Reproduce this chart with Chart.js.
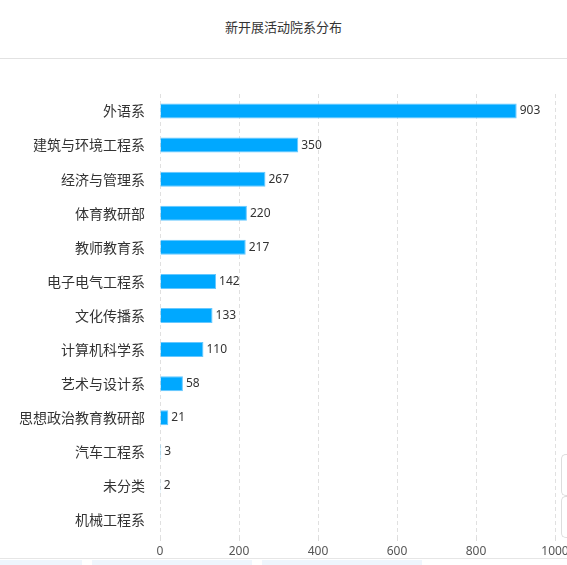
<!DOCTYPE html>
<html>
<head>
<meta charset="utf-8">
<script src="https://cdn.jsdelivr.net/npm/chart.js@4/dist/chart.umd.min.js"></script>
<style>
  html,body{margin:0;padding:0;background:#fff;width:567px;height:565px;overflow:hidden;font-family:"Noto Sans CJK SC","Noto Sans",sans-serif;}
  #hdr{position:absolute;left:0;top:0;width:567px;height:58px;border-bottom:1px solid #e2e2e2;text-align:center;line-height:54px;font-size:13px;color:#333;}
  #wrap{position:absolute;left:0;top:60px;width:567px;height:499px;}
  #foot{position:absolute;left:0;top:558px;width:567px;height:1px;background:#e6e6e6;}
  .strip{position:absolute;top:560px;height:5px;background:#eef5fd;}
  .wid{position:absolute;left:561px;width:10px;border:1px solid #ddd;border-right:none;border-radius:5px 0 0 5px;background:#fff;}
</style>
</head>
<body>
<div id="hdr">新开展活动院系分布</div>
<div id="wrap"><canvas id="c" width="567" height="498"></canvas></div>
<div id="foot"></div>
<div class="strip" style="left:0;width:82px"></div>
<div class="strip" style="left:92px;width:160px"></div>
<div class="strip" style="left:262px;width:160px"></div>
<div class="wid" style="top:454px;height:40px"></div>
<div class="wid" style="top:496px;height:40px"></div>
<script>
const categories = ["外语系","建筑与环境工程系","经济与管理系","体育教研部","教师教育系","电子电气工程系","文化传播系","计算机科学系","艺术与设计系","思想政治教育教研部","汽车工程系","未分类","机械工程系"];
const values = [903,350,267,220,217,142,133,110,58,21,3,2,0];
const xTicks = [0,200,400,600,800,1000];

const valueLabels = {
  id:'valueLabels',
  afterDatasetsDraw(chart){
    const ctx = chart.ctx;
    const meta = chart.getDatasetMeta(0);
    ctx.save();
    ctx.font = '12px "Noto Sans","Noto Sans CJK SC",sans-serif';
    ctx.fillStyle = '#333';
    ctx.textAlign = 'left';
    ctx.textBaseline = 'middle';
    meta.data.forEach((el,i)=>{
      const v = chart.data.datasets[0].data[i];
      if (!v) return;
      ctx.fillText(String(v), el.x + 3, el.y);
    });
    ctx.restore();
  }
};

new Chart(document.getElementById('c'), {
  type:'bar',
  data:{
    labels: categories,
    datasets:[{
      data: values,
      backgroundColor:'#00a8ff',
      borderColor:'#66c8ff',
      borderWidth:1,
      barPercentage:0.55,
      categoryPercentage:0.8
    }]
  },
  options:{
    indexAxis:'y',
    responsive:false,
    animation:false,
    layout:{padding:{top:34,right:0,left:0,bottom:0}},
    plugins:{legend:{display:false},tooltip:{enabled:false},title:{display:false}},
    scales:{
      x:{
        min:0,max:1000,
        afterBuildTicks(axis){ axis.ticks = xTicks.map(v=>({value:v})); },
        afterFit(axis){ axis.height = 21; axis.paddingRight = 12; },
        grid:{color:'#e0e0e0',tickColor:'#dddddd',tickLength:4,tickBorderDash:[],drawOnChartArea:true},
        border:{display:false,dash:[4,3]},
        ticks:{color:'#555',padding:3,font:{size:12,family:'"Noto Sans",sans-serif'},maxRotation:0,callback:(v)=>String(v)}
      },
      y:{
        afterFit(axis){ axis.width = 160; },
        grid:{display:false},
        border:{display:false},
        ticks:{color:'#333',padding:7,font:{size:14,family:'"Noto Sans CJK SC",sans-serif'}}
      }
    }
  },
  plugins:[valueLabels]
});
</script>
</body>
</html>
